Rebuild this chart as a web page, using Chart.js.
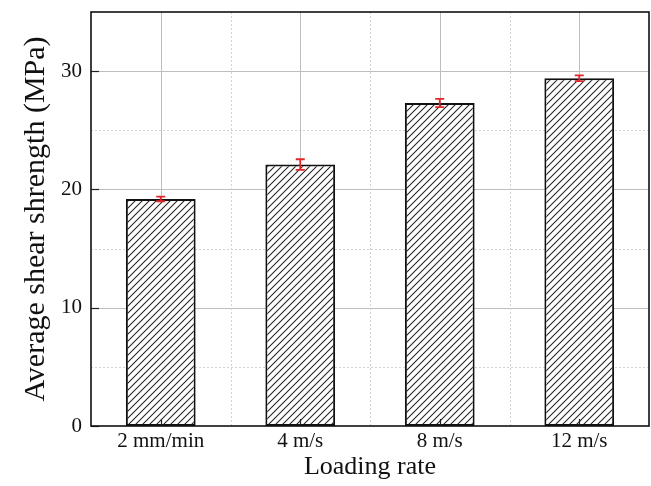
<!DOCTYPE html>
<html>
<head>
<meta charset="utf-8">
<script src="https://cdn.jsdelivr.net/npm/chart.js@4/dist/chart.umd.min.js"></script>
<style>
html,body{margin:0;padding:0;background:#fff;}
#wrap{width:651px;height:486px;position:relative;}
</style>
</head>
<body>
<div id="wrap"><canvas id="c" width="651" height="486"></canvas></div>
<script>
const categories = ['2 mm/min', '4 m/s', '8 m/s', '12 m/s'];
const strengthValues = [19.2, 22.1, 27.3, 29.4];
const strengthErrors = [0.2, 0.45, 0.35, 0.25];
const yTickValues = [0, 5, 10, 15, 20, 25, 30, 35];
const yLabelValues = [0, 10, 20, 30];

function hatchPattern() {
  const s = 7;
  const c = document.createElement('canvas');
  c.width = s; c.height = s;
  const g = c.getContext('2d');
  g.fillStyle = '#fff';
  g.fillRect(0, 0, s, s);
  g.strokeStyle = '#222';
  g.lineWidth = 1.05;
  g.beginPath();
  g.moveTo(-1, s + 1); g.lineTo(s + 1, -1);
  g.moveTo(-2, 2); g.lineTo(2, -2);
  g.moveTo(s - 2, s + 2); g.lineTo(s + 2, s - 2);
  g.stroke();
  return g.createPattern(c, 'repeat');
}

const gridPlugin = {
  id: 'gridPlugin',
  beforeDatasetsDraw(chart) {
    const ctx = chart.ctx, a = chart.chartArea;
    const y = chart.scales.y, x = chart.scales.x;
    ctx.save();
    ctx.lineWidth = 1;
    yTickValues.forEach(v => {
      if (v === 0 || v === 35) return;
      const py = Math.round(y.getPixelForValue(v)) + 0.5;
      const major = v % 10 === 0;
      ctx.strokeStyle = major ? '#bdbdbd' : '#d2d2d2';
      ctx.setLineDash(major ? [] : [2, 2]);
      ctx.beginPath(); ctx.moveTo(a.left, py); ctx.lineTo(a.right, py); ctx.stroke();
    });
    categories.forEach((c, i) => {
      const px = Math.round(x.getPixelForValue(i)) + 0.5;
      ctx.strokeStyle = '#bdbdbd'; ctx.setLineDash([]);
      ctx.beginPath(); ctx.moveTo(px, a.top); ctx.lineTo(px, a.bottom); ctx.stroke();
      if (i < categories.length - 1) {
        const pb = Math.round((x.getPixelForValue(i) + x.getPixelForValue(i + 1)) / 2) + 0.5;
        ctx.strokeStyle = '#d2d2d2'; ctx.setLineDash([2, 2]);
        ctx.beginPath(); ctx.moveTo(pb, a.top); ctx.lineTo(pb, a.bottom); ctx.stroke();
      }
    });
    ctx.restore();
  },
  afterDatasetsDraw(chart) {
    const ctx = chart.ctx, a = chart.chartArea;
    const y = chart.scales.y, x = chart.scales.x;
    ctx.save();
    const meta = chart.getDatasetMeta(0);
    ctx.strokeStyle = '#e3262a';
    ctx.lineWidth = 1.8;
    strengthValues.forEach((v, i) => {
      const px = meta.data[i].x;
      const yt = y.getPixelForValue(v + strengthErrors[i]);
      const yb = y.getPixelForValue(v - strengthErrors[i]);
      ctx.beginPath();
      ctx.moveTo(px, yt); ctx.lineTo(px, yb);
      ctx.moveTo(px - 4.5, yt); ctx.lineTo(px + 4.5, yt);
      ctx.moveTo(px - 4.5, yb); ctx.lineTo(px + 4.5, yb);
      ctx.stroke();
    });
    ctx.strokeStyle = '#222';
    ctx.lineWidth = 1.2;
    yLabelValues.forEach(v => {
      const py = Math.round(y.getPixelForValue(v)) + 0.5;
      ctx.beginPath(); ctx.moveTo(a.left, py); ctx.lineTo(a.left + 8, py); ctx.stroke();
    });
    categories.forEach((c, i) => {
      const px = Math.round(x.getPixelForValue(i)) + 0.5;
      ctx.beginPath(); ctx.moveTo(px, a.bottom); ctx.lineTo(px, a.bottom - 7); ctx.stroke();
    });
    ctx.strokeStyle = '#111';
    ctx.lineWidth = 1.6;
    ctx.strokeRect(a.left, a.top, a.right - a.left, a.bottom - a.top);
    ctx.restore();
  }
};

const serif = 'Liberation Serif';
new Chart(document.getElementById('c'), {
  type: 'bar',
  data: {
    labels: categories,
    datasets: [{
      data: strengthValues,
      backgroundColor: hatchPattern(),
      borderColor: '#111',
      borderWidth: 2,
      borderSkipped: false,
      categoryPercentage: 1,
      barPercentage: 0.5
    }]
  },
  options: {
    responsive: false,
    animation: false,
    devicePixelRatio: 1,
    layout: { padding: { top: 12, right: 2, left: 0, bottom: 0 } },
    plugins: { legend: { display: false }, tooltip: { enabled: false } },
    scales: {
      x: {
        grid: { display: false, drawTicks: false },
        border: { display: false },
        ticks: { color: '#111', font: { family: serif, size: 21 }, padding: 3 },
        title: { display: true, text: 'Loading rate', color: '#111',
                 font: { family: serif, size: 26, lineHeight: 1 }, padding: { top: 0, bottom: 6 } },
        afterFit(s) { s.height = 60; s.paddingLeft = 0; s.paddingRight = 0; }
      },
      y: {
        min: 0, max: 35,
        grid: { display: false, drawTicks: false },
        border: { display: false },
        afterBuildTicks(s) { s.ticks = yTickValues.map(v => ({ value: v })); },
        ticks: {
          color: '#111', font: { family: serif, size: 21 }, padding: 9,
          callback: v => yLabelValues.includes(v) ? String(v) : ''
        },
        title: { display: true, text: 'Average shear shrength (MPa)', color: '#111',
                 font: { family: serif, size: 30, lineHeight: 1 }, padding: { top: 21, bottom: 0 } },
        afterFit(s) { s.width = 91; s.paddingTop = 0; s.paddingBottom = 0; }
      }
    }
  },
  plugins: [gridPlugin]
});
</script>
</body>
</html>
